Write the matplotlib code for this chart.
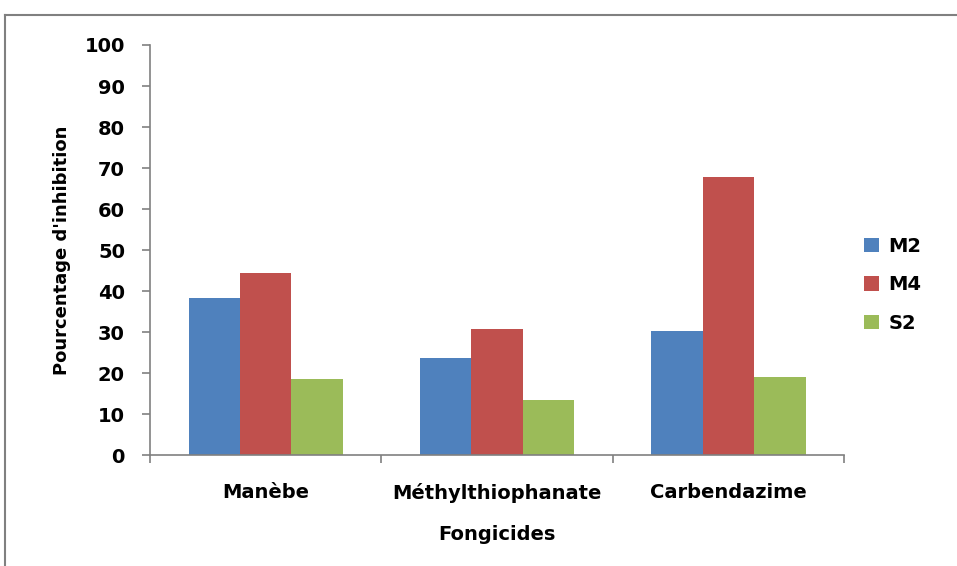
import matplotlib.pyplot as plt
import numpy as np
from matplotlib.lines import Line2D

categories = ["Manèbe", "Méthylthiophanate", "Carbendazime"]
series_names = ["M2", "M4", "S2"]
m2 = [38.4, 23.7, 30.2]
m4 = [44.4, 30.8, 67.9]
s2 = [18.5, 13.4, 19.1]
colors = ["#4F81BD", "#C0504D", "#9BBB59"]

plt.rcParams["font.family"] = ["DejaVu Sans"]
plt.rcParams["font.weight"] = "bold"

fig = plt.figure(figsize=(9.57, 5.66), dpi=100)
ax = fig.add_axes([0.1567, 0.196, 0.7253, 0.7245])

x = np.arange(len(categories))
width = 1 / 4.5
for i, (name, vals) in enumerate(zip(series_names, [m2, m4, s2])):
    ax.bar(x + (i - 1) * width, vals, width, color=colors[i], label=name)

ax.set_xlim(-0.5, 2.5)
ax.set_ylim(0, 100)
ax.set_yticks(np.arange(0, 101, 10))
ax.set_xticks(x)
ax.set_xticklabels(categories)
ax.set_xticks([-0.5, 0.5, 1.5, 2.5], minor=True)
ax.tick_params(axis="x", which="major", length=0, pad=20, labelsize=14)
ax.tick_params(axis="x", which="minor", length=6, color="#808080", width=1.2)
ax.tick_params(axis="y", length=6, color="#808080", width=1.2, labelsize=14, pad=12)

for side in ["top", "right"]:
    ax.spines[side].set_visible(False)
for side in ["left", "bottom"]:
    ax.spines[side].set_color("#808080")
    ax.spines[side].set_linewidth(1.2)

ax.set_xlabel("Fongicides", fontsize=14, fontweight="bold", labelpad=16)
ax.set_ylabel("Pourcentage d'inhibition", fontsize=13, fontweight="bold", labelpad=10)

ax.legend(loc="center left", bbox_to_anchor=(1.004, 0.415), frameon=False,
          fontsize=14, handlelength=0.75, handleheight=0.75, labelspacing=1.0,
          handletextpad=0.5)

# outer chart frame (top and left edges)
fig.add_artist(Line2D([5 / 957, 1.0], [1 - 15 / 566, 1 - 15 / 566],
                      color="#808080", lw=1.5, transform=fig.transFigure))
fig.add_artist(Line2D([5 / 957, 5 / 957], [0, 1 - 15 / 566],
                      color="#808080", lw=1.5, transform=fig.transFigure))

fig.savefig("out.png", dpi=100)
